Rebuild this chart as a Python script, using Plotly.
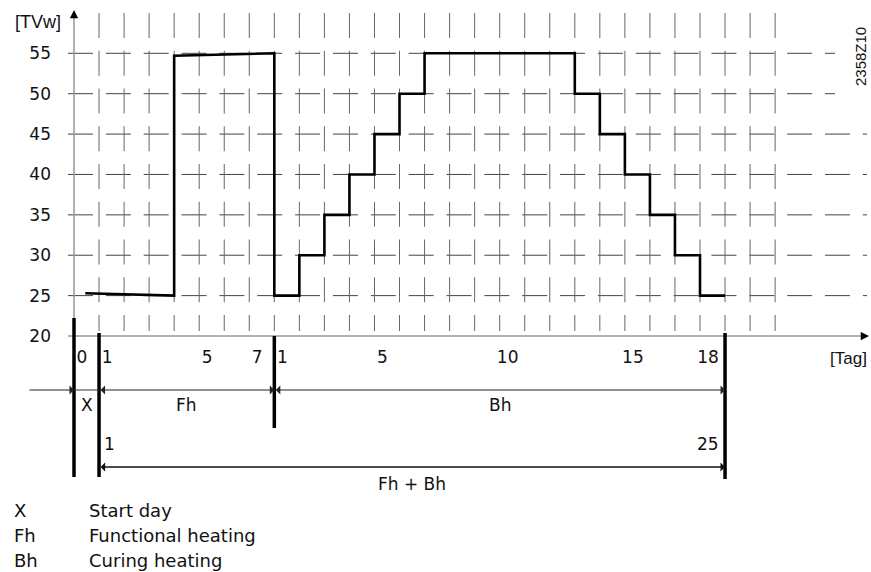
import plotly.graph_objects as go

W, H = 871, 572
OFF = 0  # page body margin is removed below, so figure pixels == page pixels

# ---------------- data ----------------
# Overall day axis: 0 = start day (X), 1..7 = Fh days 1..7, 8..25 = Bh days 1..18, 26 = end of Bh
curve_day = [0.45, 4, 4, 8, 8, 9, 9, 10, 10, 11, 11, 12, 12, 13, 13, 14, 14,
             20, 20, 21, 21, 22, 22, 23, 23, 24, 24, 25, 25, 26]
curve_temp = [25.3, 25.0, 54.7, 55.0, 25, 25, 30, 30, 35, 35, 40, 40, 45, 45, 50, 50, 55,
              55, 50, 50, 45, 45, 40, 40, 35, 35, 30, 30, 25, 25]

y_ticks = [20, 25, 30, 35, 40, 45, 50, 55]
y_grid = [25, 30, 35, 40, 45, 50, 55]
x_grid = [1, 2, 3, 4, 5, 6, 7, 8, 9, 10, 11, 12, 13, 14, 15, 16, 17, 18, 19, 20,
          21, 22, 23, 24, 25, 26, 27, 28]
x_tick_pos = [0, 1, 5, 7, 8, 12, 17, 22, 25]
x_tick_text = ["0", "1", "5", "7", "1", "5", "10", "15", "18"]

phase_names = ["X", "Fh", "Bh"]
phase_start = [0, 1, 8]
phase_end = [1, 8, 26]
total_span = [1, 26]
total_text = ["1", "25"]
total_name = "Fh + Bh"

legend_abbr = ["X", "Fh", "Bh"]
legend_desc = ["Start day", "Functional heating", "Curing heating"]

# ---------------- pixel (page) <-> data helpers (layout only) ----------------
X0_PX, DAY_PX = 74.0, 25.04
Y20_PX, UNIT_PX = 336.0, 8.077


def dx(px):
    return (px - X0_PX) / DAY_PX


def vy(py):
    return 20 + (Y20_PX - py) / UNIT_PX


x_range = [dx(OFF), dx(OFF + W)]
y_range = [vy(OFF + H), vy(OFF)]

fig = go.Figure()

fig.add_trace(go.Scatter(x=curve_day, y=curve_temp, mode="lines",
                         line=dict(color="#000", width=2.6), hoverinfo="skip"))

shapes = []
# horizontal dashed grid
for v in y_grid:
    shapes.append(dict(type="line", xref="x", yref="y", x0=dx(68), x1=dx(835 if v >= 50 else 867),
                       y0=v, y1=v, layer="below",
                       line=dict(color="#444", width=1, dash="25px,12.85px")))
# vertical dashed grid
for d in x_grid:
    shapes.append(dict(type="line", xref="x", yref="y", x0=d, x1=d, y0=vy(13), y1=vy(331),
                       layer="below", line=dict(color="#666", width=1, dash="25px,12.75px")))
# axes lines
shapes.append(dict(type="line", xref="x", yref="y", x0=0, x1=0, y0=20, y1=vy(16),
                   line=dict(color="#999", width=1.5)))
shapes.append(dict(type="line", xref="x", yref="y", x0=dx(68), x1=dx(861), y0=20, y1=20,
                   line=dict(color="#999", width=1.5)))

# thick boundary bars
bounds = [0, 1, 8, 26]
bar_top = [318, 333, 336, 333]
bar_bot = [477, 477, 428, 479]
for b, t, bt in zip(bounds, bar_top, bar_bot):
    shapes.append(dict(type="line", xref="x", yref="y", x0=b, x1=b, y0=vy(t), y1=vy(bt),
                       line=dict(color="#000", width=3.5)))

DIM1 = vy(390)
DIM2 = vy(467)
# plain segment of the dimension line across the start day
shapes.append(dict(type="line", xref="x", yref="y", x0=phase_start[0], x1=phase_end[0],
                   y0=DIM1, y1=DIM1, line=dict(color="#333", width=1)))

annotations = []
# axis arrowheads
annotations.append(dict(x=0, y=vy(10), xref="x", yref="y", ax=0, ay=9, text="", showarrow=True,
                        arrowhead=2, arrowsize=1.1, arrowwidth=1.5, arrowcolor="#000"))
annotations.append(dict(x=dx(869), y=20, xref="x", yref="y", ax=-9, ay=0, text="", showarrow=True,
                        arrowhead=2, arrowsize=1.1, arrowwidth=1.5, arrowcolor="#000"))

# dimension line: lead-in to start day
annotations.append(dict(x=phase_start[0], y=DIM1, ax=dx(28), ay=DIM1, xref="x", yref="y",
                        axref="x", ayref="y", text="", showarrow=True, arrowhead=1,
                        arrowsize=1.5, arrowwidth=1, arrowcolor="#222"))
# Fh and Bh double arrows
for s, e in zip(phase_start[1:], phase_end[1:]):
    annotations.append(dict(x=e, y=DIM1, ax=s, ay=DIM1, xref="x", yref="y", axref="x", ayref="y",
                            text="", showarrow=True, arrowside="end+start",
                            arrowhead=1, startarrowhead=1, arrowsize=1.5, startarrowsize=1.5,
                            arrowwidth=1, arrowcolor="#222"))
# Fh + Bh double arrow
annotations.append(dict(x=total_span[1], y=DIM2, ax=total_span[0], ay=DIM2, xref="x", yref="y",
                        axref="x", ayref="y", text="", showarrow=True, arrowside="end+start",
                        arrowhead=1, startarrowhead=1, arrowsize=0.95, startarrowsize=0.95,
                        arrowwidth=1.6, arrowcolor="#111"))

FONT = "DejaVu Sans"
TXT = "#111"
for name, s, e in zip(phase_names, phase_start, phase_end):
    annotations.append(dict(x=(s + e) / 2, y=vy(404.5), xref="x", yref="y", text=name,
                            showarrow=False, font=dict(family=FONT, size=17, color=TXT)))
annotations.append(dict(x=total_span[0], y=vy(444), xref="x", yref="y", text=total_text[0],
                        xanchor="left", xshift=3, showarrow=False,
                        font=dict(family=FONT, size=17, color=TXT)))
annotations.append(dict(x=total_span[1], y=vy(444), xref="x", yref="y", text=total_text[1],
                        xanchor="right", xshift=-4, showarrow=False,
                        font=dict(family=FONT, size=17, color=TXT)))
annotations.append(dict(x=sum(total_span) / 2, y=vy(484), xref="x", yref="y", text=total_name,
                        showarrow=False, font=dict(family=FONT, size=17, color=TXT)))

# axis unit labels
annotations.append(dict(x=dx(38), y=vy(22), xref="x", yref="y", text="[TVw]", showarrow=False,
                        font=dict(family="Liberation Sans", size=18, color=TXT)))
annotations.append(dict(x=dx(869), y=vy(358), xref="x", yref="y", text="[Tag]", xanchor="right",
                        showarrow=False, font=dict(family="Liberation Sans", size=17, color=TXT)))
annotations.append(dict(x=dx(860), y=vy(57), xref="x", yref="y", text="2358Z10", textangle=-90,
                        showarrow=False, font=dict(family="Liberation Sans", size=15, color=TXT)))

# key
for i, (a, t) in enumerate(zip(legend_abbr, legend_desc)):
    yy = vy(510 + 25 * i)
    annotations.append(dict(x=dx(12), y=yy, xref="x", yref="y", text=a, xanchor="left",
                            showarrow=False, font=dict(family=FONT, size=18, color=TXT)))
    annotations.append(dict(x=dx(87), y=yy, xref="x", yref="y", text=t, xanchor="left",
                            showarrow=False, font=dict(family=FONT, size=18, color=TXT)))

fig.update_layout(
    width=W, height=H, margin=dict(l=0, r=0, t=0, b=0),
    plot_bgcolor="white", paper_bgcolor="white", showlegend=False,
    shapes=shapes, annotations=annotations,
    xaxis=dict(range=x_range, showgrid=False, zeroline=False, showline=False,
               anchor="free", position=1 - (Y20_PX - OFF) / H, tickmode="array",
               tickvals=x_tick_pos, ticktext=x_tick_text, ticks="", ticklabelshift=8,
               ticklabelstandoff=9,
               tickfont=dict(family=FONT, size=17, color=TXT), fixedrange=True),
    yaxis=dict(range=y_range, showgrid=False, zeroline=False, showline=False,
               anchor="free", position=(51 - OFF) / W, tickmode="array", tickvals=y_ticks,
               ticks="", tickfont=dict(family=FONT, size=17, color=TXT), fixedrange=True),
)

fig.write_html(
    "out.html",
    config={"displayModeBar": False},
    post_script="document.body.style.margin='0';document.body.style.overflow='hidden';",
)
